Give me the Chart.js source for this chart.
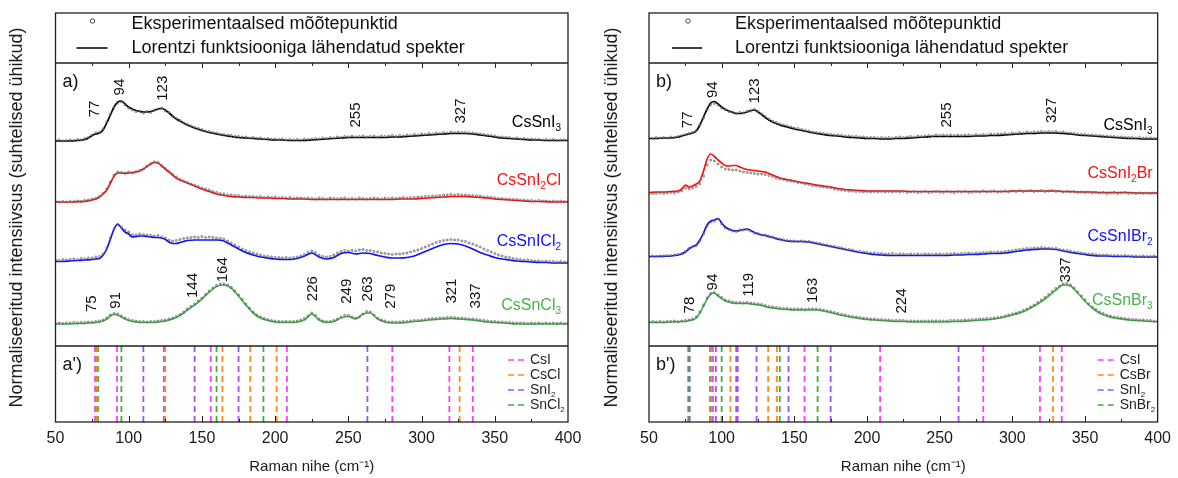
<!DOCTYPE html>
<html>
<head>
<meta charset="utf-8">
<script src="https://cdn.jsdelivr.net/npm/chart.js@4.4.1/dist/chart.umd.min.js"></script>
<style>
  body { margin: 0; background: #fff; }
  #wrap { display: flex; width: 1178px; height: 478px; }
  canvas { display: block; }
</style>
</head>
<body>
<div id="wrap">
  <canvas id="panelA" width="589" height="478"></canvas>
  <canvas id="panelB" width="589" height="478"></canvas>
</div>
<script>
// Raman shift grid of the fitted (Lorentz) spectra, cm-1
const ramanX = [50,55,60,65,
  70,72.5,75,77.5,80,82.5,85,87.5,90,92.5,95,97.5,100,102.5,105,107.5,110,112.5,115,117.5,120,122.5,125,127.5,130,132.5,135,137.5,140,
  145,150,155,160,165,170,175,180,185,190,195,200,205,210,215,220,225,230,235,240,245,250,255,260,265,270,275,280,285,290,
  295,300,305,310,315,320,325,330,335,340,345,350,355,360,365,370,375,380,385,390,395,400];

// measured points grid, cm-1
const expX = [50,52.5,55,57.5,60,62.5,65,67.5,70,72.5,75,77.5,80,82.5,85,87.5,90,92.5,95,97.5,
  100,102.5,105,107.5,110,112.5,115,117.5,120,122.5,125,127.5,130,132.5,135,137.5,140,142.5,145,147.5,
  150,152.5,155,157.5,160,162.5,165,167.5,170,172.5,175,177.5,180,182.5,185,187.5,190,192.5,195,197.5,
  200,202.5,205,207.5,210,212.5,215,217.5,220,222.5,225,227.5,230,232.5,235,237.5,240,242.5,245,247.5,
  250,252.5,255,257.5,260,262.5,265,267.5,270,272.5,275,277.5,280,282.5,285,287.5,290,292.5,295,297.5,
  300,302.5,305,307.5,310,312.5,315,317.5,320,322.5,325,327.5,330,332.5,335,337.5,340,342.5,345,347.5,
  350,352.5,355,357.5,360,362.5,365,367.5,370,372.5,375,377.5,380,382.5,385,387.5,390,392.5,395,397.5,400];

// ---- panel a: CsSnI3 -> CsSnCl3 (relative intensity) ----
const fitCsSnI3a = [0,0,0,0.5,
  1.5,3,5.5,7,8,11,18,26,34,39,40,37,34,32,30.5,29.5,29,29,29.5,30.5,32,32.5,31,28,25,22,20,18,16,
  13,10.5,8.5,7,5.5,4.5,3.5,3,2.5,2,1.5,1,1,0.5,0.5,0.5,1,1.5,2,2.5,3,3.5,3.5,3.5,3.5,3.5,3.5,4,4,4.5,
  5,5.5,6,6.5,7,7.5,7.5,7.5,7,6,5,4,3,2.5,2,1.5,1,1,0.5,0.5,0.5,0.5];
const fitCsSnI2Cl = [0,0,0,0.3,
  0.7,1.2,2,3,5,8,12,19,26,29,29,28.5,29,29.5,30,31,33,35.5,38,39.5,39,36,33,30,27,24,22,20.5,19,
  16,13,10.5,8,6.5,5.5,5,4.5,4.5,4,4,3.5,3.5,3,3,3,2.5,2.5,2.5,2.5,2.5,2.5,2.5,2.5,2.5,2.5,2.5,2.5,3,3,
  3,3.5,4,4.5,5,5.5,5.5,5.5,5,4.5,4,3,2.5,2,1.5,1,0.5,0.5,0.3,0,0,0];
const fitCsSnICl2 = [1.5,1.5,2,2.5,
  3,3.2,3.5,4,4.5,8,14,24,34,39,35,31,29,26,26.5,27,27,26.5,26,25.5,25.5,25,23.5,21,19.5,19.5,20.5,21.5,22.5,
  23,23,23,23,22,18,14,10.5,8,6,5,4,3.5,3.5,4.5,7,10,6,4,5.5,9.5,10.5,9,10,9.5,7.5,6,5,5,5.5,
  7,10,13,16,18.5,19.5,19,17,14,10.5,8,5.5,4,3,2,1.5,1,0.5,0.5,0,0,0];
const fitCsSnCl3 = [1,1,1,1.5,
  1.5,2,2,2.5,3,4,6,9,10.5,10,8,6,4.5,3.5,3,2.5,2.5,2.5,2.5,2.5,3,3.5,4,5,6,7.5,9.5,12,15,
  20,26,33,38.5,40,37,29,20,12,7,4.5,3,2.5,2.5,3,5,11,5,2.5,3.5,7,8.5,6,11,12,6,3,2,2,2.5,
  3.5,4,5,5.5,6,6.5,6,5.5,5,4,3,2.5,2,1.5,1,1,1,1,1,1,1,1];

const expCsSnI3a = [0.5,1,0,0.5,1,0.5,1.5,1,2.5,3.5, 6,8,8.5,12,19,27,34,38,39,36,
  33,31,29.5,30,28,29.5,28.5,31,32,33, 30,28.5,24.5,22.5,20.5,18,16.5,15,13.5,12.5,
  11.5,10,9.5,8.5,8,7,6.5,6,5.5,4.5, 4.5,4,4,3,3.5,2.5,3,2,2.5,1.5,
  2,1.5,2,1,1.5,1,1.5,1,2,1.5, 2,2.5,2,3,2.5,3.5,3,4,3.5,4.5,
  4,5,4,4.5,5,4,4.5,5,4,5, 4.5,5,5.5,4.5,5.5,5,6,5.5,6.5,6,
  7,6.5,7.5,7,8,7.5,8.5,8,9,8.5, 9,8.5,8.5,8,8,7.5,7,6.5,6,5.5,
  5,4,4,3.5,3.5,2.5,3,2,2.5,1.5, 2,1.5,1.5,1,1.5,1,1.5,0.5,1,1, 1];
const expCsSnI2Cl = [0.5,0,0.5,0,0.5,0.5,1,0.5,1.5,2, 3,3.5,5.5,8.5,13,20,27,30,29.5,29,
  30,29,30.5,31.5,33,36,38.5,40,39.5,36.5, 33.5,30.5,27.5,25,22.5,21,19.5,18,17,15.5,
  14,13,12,10.5,9.5,8.5,8,7,7,6.5, 6.5,5.5,6,5.5,5.5,5,5.5,4.5,5,4.5,
  5,4,4.5,4,4.5,3.5,4,4,3.5,4, 3.5,3,4,3.5,3,4,3.5,3,3.5,4,
  3,3.5,3,4,3.5,3,3.5,4,3.5,3, 4,3.5,4,3.5,4,4.5,4,4.5,4.5,5,
  5,5.5,5.5,6,6,6.5,7,7,7.5,7, 7.5,7,7,6.5,6.5,6,6,5,5,4.5,
  4,3.5,3.5,3,3,2.5,2.5,2,2,1.5, 1.5,1,1.5,1,1,0.5,1,0.5,1,0.5, 0.5];
const expCsSnICl2 = [3,2.5,3.5,3,3.5,4,3.5,4.5,4,5, 5,6,6.5,9,15,25,34,38,36,33,
  31,28,28,29,28.5,28,27.5,27,27.5,26, 25,23,22,22.5,23.5,24.5,25,25.5,26,25.5,
  26.5,25.5,26,25.5,25,24.5,24,22,20,18, 16,14,12.5,11,10,9,8,7,6.5,6,
  5.5,5.5,5,5.5,5,5.5,6,7,8.5,10.5, 12,10.5,8,6.5,6,6.5,8,10,11.5,12.5,
  12,12.5,12,13,13.5,12.5,12.5,11.5,11,10, 9.5,9,8.5,9,9,9.5,10,11,12,13,
  14.5,16,17.5,19,20.5,21.5,22.5,23,23.5,23, 23,22,21.5,20,19,17.5,16,14,12.5,11,
  9.5,8,7,6,5.5,4.5,4,3.5,3,3, 2.5,2,2,1.5,2,1.5,1.5,1,1.5,1, 1];
const expCsSnCl3 = [1.5,2,1.5,2,2,2.5,2,2.5,2.5,3, 3,3.5,4,5,7,10,11.5,11,9,7,
  5.5,4.5,4,3.5,3.5,3,3.5,3.5,4,4.5, 5,6,7,8.5,10.5,13,16,18.5,21,24,
  27,30.5,34,37,39.5,41,41,40,37.5,34, 30,25.5,21,17,13,10,8,6.5,5.5,4.5,
  4,3.5,3.5,3.5,3.5,3.5,4,5,6.5,9, 12,9.5,6,4,3.5,3.5,4.5,6,8,9.5,
  9.5,8,7,8,11,13.5,13,10,7,5, 4,3,3,3,3,3.5,3.5,4,4.5,4.5,
  5,5.5,6,6.5,6.5,7,7,7.5,7.5,7.5, 7,7,6.5,6,6,5.5,5,4.5,4,3.5,
  3.5,3,3,2.5,2.5,2,2,2,2,1.5, 2,1.5,2,1.5,2,1.5,2,1.5,2,1.5, 2];

// ---- panel b: CsSnI3 -> CsSnBr3 ----
const fitCsSnI3b = [0.5,0.5,1,1,
  2,3,4,5,6,8,14,22,30,36,37.5,35,32,29.5,28,26.5,25.5,25.5,26,27,28.5,29,27,24.5,21.5,19,17,15.5,14,
  12,10,8.5,7,5.5,4.5,3.5,3,2,1.5,1,0.5,0.5,0,0,0.5,0.5,1,1.5,2,2.5,2.5,2.5,2.5,2.5,2.5,3,3,3.5,3.5,
  4,4.5,5,5.5,5.5,6,6,6,5.5,5,4,3.5,3,2.5,2,1.5,1,0.5,0.5,0,0,0];
const fitCsSnI2Br = [0.5,1,1,1.5,
  2,4,8,6,7,9,12,22,34,39,36.5,33,30,27.5,27,27.5,27.5,26,24.5,23.5,23,22.5,22,21.5,21,19.5,18,16.5,15,
  13.5,12,10.5,9.5,8,7,6,4.5,3.5,3,2.5,2,2,2,2,2,2,1.5,1.5,1.5,1.5,1.5,1.5,1.5,1.5,1.5,1.5,1.5,1.5,1.5,
  1.5,2,2,2,2,2,2,2,1.5,1.5,1,1,1,0.5,0.5,0.5,0.5,0.5,0,0,0,0];
const fitCsSnIBr2 = [0.5,0.5,0.7,1,
  2,3,5,8,10.5,12,17,24,32,36,37,38.5,34,30,28,26.5,26,26.5,27.5,28,26.5,24.5,23,22,21.5,20.5,19.5,18.5,17.5,
  16,15.5,15.5,15,13.5,12,10.5,9,7.5,6,4.5,3.5,2.5,2,1.5,1.5,1.5,1.5,1.5,1.5,1.5,1.5,1.5,2,2,2.5,2.5,3,3.5,3.5,
  4,5,6,7,7.5,8,8,7.5,6,4.5,3.5,2.5,1.5,1,1,0.5,0.5,0.5,0,0,0,0];
const fitCsSnBr3 = [0.5,0.5,0.5,1,
  1,1.5,1.5,2.5,3,5,10,17,24,29,30,27,24.5,22,21,20,19.5,19.5,19.5,19.5,19,18.5,18,17.5,16.5,15.5,15,14.5,14,
  13.5,13,13,13,13,12,10.5,8.5,7,5.5,4.5,3.5,3,2.5,2,1.5,1.5,1,1,1,1,1,1,1.5,1.5,2,2.5,3,3.5,4.5,
  6,8,10,13,17,21.5,27,33,38,37,30,22,15,10,7,5,4,3,2.5,2,1.5,1];

const expCsSnI3b = [1,0.5,1.5,1,1.5,1,2,1.5,2.5,3.5, 4.5,5.5,6.5,8.5,14,21,29,34,35.5,34,
  31,29.5,27.5,27,25.5,26.5,26,27.5,28,29.5, 27.5,25,22.5,20,18,16.5,15,14,13,12,
  11,10.5,9.5,8.5,8,7,6.5,6,5.5,5, 4.5,4,4,3.5,3,3,2.5,2.5,2,2,
  1.5,1.5,1.5,1,1.5,1,1.5,1,1.5,2, 1.5,2,2.5,2,3,2.5,3,3.5,3,4,
  3.5,4,3.5,4,3.5,4,3.5,4,4,3.5, 4.5,4,4.5,4,5,4.5,5,5,5.5,5,
  6,5.5,6.5,6,7,6.5,7,7,7.5,7, 7.5,7,7.5,6.5,7,6,6,5.5,5,4.5,
  4.5,4,4,3.5,3.5,3,3,2.5,2.5,2, 2,1.5,1.5,1.5,1,1.5,1,1,1,0.5, 1];
const expCsSnI2Br = [-1,-0.5,-0.5,0,-0.5,0,0.5,0,1,2, 5,4,5,6.5,9,17,28,33,32,29,
  26,24,23.5,23,23,22,21,20.5,20,19.5, 19,19,18.5,17.5,16.5,15,14,13.5,12.5,12,
  11.5,10.5,10,9,8.5,7.5,7,6.5,6,5.5, 5,4,3.5,3,2.5,2,2,1.5,1.5,1,
  1.5,1,1.5,1,1.5,1,1.5,1,1.5,1, 1.5,0.5,1,1.5,0.5,1,1.5,0.5,1,1.5,
  1,0.5,1.5,1,0.5,1.5,1,1.5,0.5,1, 1.5,1,2,1,1.5,2,1,1.5,2,1,
  2,1.5,2.5,1.5,2,2.5,1.5,2,2.5,1.5, 2,2.5,1.5,2,1,1.5,1,1.5,0.5,1,
  0.5,1,0,0.5,0,0.5,-0.5,0,0.5,-0.5, 0,0.5,-0.5,0,-0.5,0,-0.5,0,-0.5,0, -0.5];
const expCsSnIBr2 = [0.5,1,0.5,1,1,1.5,1.5,2,2.5,3.5, 5.5,8.5,10,11.5,16,23,31,35,36,38,
  33,29,27.5,26,25.5,27,27,27.5,26,24, 23.5,22,22,20.5,20,18.5,18,17,16.5,16,
  16,15.5,16,15.5,15.5,14.5,14,13.5,12.5,12, 11,10.5,9.5,9,8,7.5,7,6,5.5,5,
  4.5,4,4,3.5,3.5,3,3,3.5,2.5,3, 3,2.5,3,2.5,3,2.5,3,3,2.5,3,
  3,2.5,3,3,3.5,3,3.5,3.5,4,3.5, 4,4,4.5,4.5,5,4.5,5,5,5.5,6,
  6.5,7,7.5,8,8.5,8.5,9,9,9.5,9, 9,8.5,8.5,7.5,7,6.5,6,5,4.5,4,
  3.5,3,3,2.5,2,2,2,1.5,1.5,1.5, 1,1.5,1,1,1,0.5,1,0.5,0.5,1, 0.5];
const expCsSnBr3 = [1,1.5,1,1.5,1,1.5,1.5,2,1.5,2, 2.5,3,4,6,11,18,25,29.5,30.5,28,
  25.5,23,22,21,20.5,20.5,20,20.5,20,19.5, 19,18.5,17.5,16.5,16,15.5,15,14.5,14.5,14,
  14,14,14,13.5,14,14,14,13.5,13,12, 11.5,10.5,9.5,8.5,8,7,6.5,6,5.5,5,
  4.5,4,4,3.5,3.5,3,3,2.5,2.5,2.5, 2.5,2,2,2,2,2,2,2,2,2,
  2,2,2,2.5,2.5,2.5,2.5,3,3,3.5, 3.5,4,4,4.5,4.5,5,5.5,6,7,8,
  9,10,11,12.5,14,16,18,20.5,23,25.5, 28.5,31.5,34.5,37,39,39.5,38,35,31,27,
  23,19,16,13.5,11,9.5,8,7,6,5.5, 5,4.5,4,3.5,3.5,3,3,2.5,2.5,2, 2];

// assigned peak positions, cm-1
const peaksCsSnI3 = [77, 94, 123, 255, 327];
const peaksCsSnCl3 = [75, 91, 144, 164, 226, 249, 263, 279, 321, 337];
const peaksCsSnBr3 = [78, 94, 119, 163, 224, 337];

// reference Raman lines of the precursors, cm-1
const refCsIa = [77, 92, 156, 208, 280, 319, 335];
const refCsCl = [78, 125, 164, 183, 201, 326];
const refSnI2a = [110, 124, 145, 175, 263];
const refSnCl2 = [79, 95, 160, 192];
const refCsIb = [94, 157, 209, 280, 319, 334];
const refCsBr = [93, 106, 132, 138, 328];
const refSnI2b = [78, 96, 110, 111, 124, 146, 175, 263];
const refSnBr2 = [77, 92, 100, 140, 166];

const FONT = '"Liberation Sans", Arial, Helvetica, sans-serif';
Chart.defaults.font.family = FONT;
Chart.defaults.color = '#1a1a1a';

// vertical layout in plot units (1 unit = 1 px of the plot box)
const TOTAL = 409, LEGEND_BOTTOM = 359, REF_TOP = 76;

const C_BLACK = '#000000', C_RED = '#ff1010', C_BLUE = '#1010ff', C_GREEN = '#45b545';
const C_CSI = '#ff3cff', C_CSX = '#ff8c1a', C_SNI2 = '#a64dff', C_SNX2 = '#3db03d';

const panels = [
  {
    canvas: 'panelA', tag: 'a', yAxisWidth: 55.5, padRight: 21, titlePad: 6, nameInset: 7,
    legX: { mark: 37, line0: 21, line1: 52, text: 76 },
    spectra: [
      { name: 'CsSnI_3', color: C_BLACK, fit: fitCsSnI3a, exp: expCsSnI3a, base: 281, lift: 18 },
      { name: 'CsSnI_2Cl', color: C_RED, fit: fitCsSnI2Cl, exp: expCsSnI2Cl, base: 220, lift: 21 },
      { name: 'CsSnICl_2', color: C_BLUE, fit: fitCsSnICl2, exp: expCsSnICl2, base: 159, lift: 21 },
      { name: 'CsSnCl_3', color: C_GREEN, fit: fitCsSnCl3, exp: expCsSnCl3, base: 97, lift: 19 }
    ],
    peaks: [
      { series: 0, values: peaksCsSnI3, gaps: [17, 6, 8, 10, 10] },
      { series: 3, values: peaksCsSnCl3, gaps: [11, 6, 8, 3, 14, 13, 12, 14, 15, 12] }
    ],
    refs: [
      { name: 'CsI', color: C_CSI, values: refCsIa },
      { name: 'CsCl', color: C_CSX, values: refCsCl },
      { name: 'SnI_2', color: C_SNI2, values: refSnI2a },
      { name: 'SnCl_2', color: C_SNX2, values: refSnCl2 }
    ]
  },
  {
    canvas: 'panelB', tag: 'b', yAxisWidth: 60, padRight: 15, titlePad: 12, nameInset: 5,
    legX: { mark: 39, line0: 23, line1: 53, text: 86 },
    spectra: [
      { name: 'CsSnI_3', color: C_BLACK, fit: fitCsSnI3b, exp: expCsSnI3b, base: 283, lift: 13 },
      { name: 'CsSnI_2Br', color: C_RED, fit: fitCsSnI2Br, exp: expCsSnI2Br, base: 229, lift: 19 },
      { name: 'CsSnIBr_2', color: C_BLUE, fit: fitCsSnIBr2, exp: expCsSnIBr2, base: 165, lift: 20 },
      { name: 'CsSnBr_3', color: C_GREEN, fit: fitCsSnBr3, exp: expCsSnBr3, base: 99, lift: 22 }
    ],
    peaks: [
      { series: 0, values: peaksCsSnI3, gaps: [6, 4, 7, 9, 10] },
      { series: 3, values: peaksCsSnBr3, gaps: [7, 3, 7, 7, 8, 3] }
    ],
    refs: [
      { name: 'CsI', color: C_CSI, values: refCsIb },
      { name: 'CsBr', color: C_CSX, values: refCsBr },
      { name: 'SnI_2', color: C_SNI2, values: refSnI2b },
      { name: 'SnBr_2', color: C_SNX2, values: refSnBr2 }
    ]
  }
];

// linear read-out of a fitted curve, used to seat the peak labels
function heightAt(ys, v) {
  for (let i = 1; i < ramanX.length; i++) {
    if (v <= ramanX[i]) {
      const t = (v - ramanX[i - 1]) / (ramanX[i] - ramanX[i - 1]);
      return ys[i - 1] + t * (ys[i] - ys[i - 1]);
    }
  }
  return ys[ys.length - 1];
}

// formula text, "_n" marks a subscript digit
function drawChem(ctx, text, x, yMid, size, color, align) {
  const parts = [];
  for (let i = 0; i < text.length; i++) {
    if (text[i] === '_') { parts.push([text[i + 1], true]); i++; }
    else parts.push([text[i], false]);
  }
  const big = size + 'px ' + FONT, small = Math.round(size * 0.6) + 'px ' + FONT;
  let w = 0;
  parts.forEach(([t, sub]) => { ctx.font = sub ? small : big; w += ctx.measureText(t).width; });
  let xx = align === 'right' ? x - w : x;
  ctx.fillStyle = color;
  ctx.textAlign = 'left';
  ctx.textBaseline = 'middle';
  parts.forEach(([t, sub]) => {
    ctx.font = sub ? small : big;
    ctx.fillText(t, xx, sub ? yMid + size * 0.33 : yMid);
    xx += ctx.measureText(t).width;
  });
}

function decor(p) {
  return {
    id: 'decor',
    afterDatasetsDraw(chart) {
      const { ctx, chartArea: a, scales: { x, y } } = chart;
      const yLeg = y.getPixelForValue(LEGEND_BOTTOM);
      const yRef = y.getPixelForValue(REF_TOP);
      ctx.save();

      // frame and the two dividers
      ctx.strokeStyle = '#222';
      ctx.lineWidth = 1.3;
      ctx.strokeRect(a.left, a.top, a.right - a.left, a.bottom - a.top);
      ctx.beginPath();
      ctx.moveTo(a.left, yLeg); ctx.lineTo(a.right, yLeg);
      ctx.moveTo(a.left, yRef); ctx.lineTo(a.right, yRef);
      ctx.stroke();

      // inward ticks every 25 cm-1
      ctx.lineWidth = 1;
      ctx.beginPath();
      for (let v = 75; v < 400; v += 25) {
        const px = Math.round(x.getPixelForValue(v)) + 0.5;
        const major = v % 50 === 0;
        ctx.moveTo(px, a.bottom); ctx.lineTo(px, a.bottom - (major ? 6 : 3));
        ctx.moveTo(px, yLeg); ctx.lineTo(px, yLeg + (major ? 5 : 3));
      }
      ctx.stroke();

      // legend box on top
      const L = p.legX;
      const r1 = a.top + 11, r2 = a.top + 35;
      ctx.beginPath();
      ctx.arc(a.left + L.mark, a.top + 8, 2.2, 0, Math.PI * 2);
      ctx.strokeStyle = '#333';
      ctx.lineWidth = 0.9;
      ctx.stroke();
      ctx.beginPath();
      ctx.moveTo(a.left + L.line0, r2); ctx.lineTo(a.left + L.line1, r2);
      ctx.strokeStyle = '#111';
      ctx.lineWidth = 1.6;
      ctx.stroke();
      ctx.font = '18px ' + FONT;
      ctx.fillStyle = '#111';
      ctx.textAlign = 'left';
      ctx.textBaseline = 'middle';
      ctx.fillText('Eksperimentaalsed mõõtepunktid', a.left + L.text, r1);
      ctx.fillText('Lorentzi funktsiooniga lähendatud spekter', a.left + L.text, r2);

      // panel letters
      ctx.font = '18px ' + FONT;
      ctx.fillText(p.tag + ')', a.left + 7, a.top + 69);
      ctx.fillText(p.tag + "')", a.left + 7, yRef + 19);

      // sample names
      p.spectra.forEach(s => {
        drawChem(ctx, s.name, a.right - p.nameInset, y.getPixelForValue(s.base) - s.lift, 16, s.color, 'right');
      });

      // peak positions, written upwards
      ctx.font = '15px ' + FONT;
      ctx.fillStyle = '#111';
      p.peaks.forEach(g => {
        const s = p.spectra[g.series];
        g.values.forEach((v, i) => {
          const py = y.getPixelForValue(s.base + heightAt(s.fit, v)) - g.gaps[i];
          ctx.save();
          ctx.translate(x.getPixelForValue(v), py);
          ctx.rotate(-Math.PI / 2);
          ctx.textAlign = 'left';
          ctx.textBaseline = 'middle';
          ctx.fillText(String(v), 0, 0);
          ctx.restore();
        });
      });

      // legend of the reference lines
      p.refs.forEach((r, i) => {
        const yy = yRef + 14 + 15 * i;
        ctx.beginPath();
        ctx.setLineDash([6, 4]);
        ctx.moveTo(a.right - 60, yy); ctx.lineTo(a.right - 44, yy);
        ctx.strokeStyle = r.color;
        ctx.lineWidth = 1.6;
        ctx.stroke();
        ctx.setLineDash([]);
        drawChem(ctx, r.name, a.right - 38, yy, 14, '#222', 'left');
      });

      ctx.restore();
    }
  };
}

function buildPanel(p) {
  const datasets = [];
  p.spectra.forEach(s => {
    datasets.push({
      data: expX.map((x, i) => ({ x, y: s.base + s.exp[i] })),
      showLine: false, pointRadius: 1.1, pointBorderWidth: 0.6,
      pointBorderColor: 'rgba(60,60,60,0.8)', pointBackgroundColor: 'rgba(160,160,160,0.6)',
      order: 1
    });
    datasets.push({
      data: ramanX.map((x, i) => ({ x, y: s.base + s.fit[i] })),
      borderColor: s.color, borderWidth: 1.7, pointRadius: 0,
      cubicInterpolationMode: 'monotone', order: 2
    });
  });
  p.refs.forEach(r => {
    datasets.push({
      data: r.values.flatMap(v => [{ x: v, y: 0 }, { x: v, y: REF_TOP }, { x: v, y: null }]),
      borderColor: r.color, borderWidth: 1.8, borderDash: [6, 4],
      pointRadius: 0, spanGaps: false, order: 3
    });
  });

  new Chart(document.getElementById(p.canvas), {
    type: 'line',
    data: { datasets },
    options: {
      responsive: false,
      animation: false,
      devicePixelRatio: 1,
      layout: { padding: { top: 13, right: p.padRight, bottom: 0, left: 0 } },
      plugins: { legend: { display: false }, tooltip: { enabled: false } },
      scales: {
        x: {
          type: 'linear', min: 50, max: 400,
          grid: { display: false, drawTicks: false },
          border: { display: false },
          ticks: { stepSize: 50, padding: 7, maxRotation: 0, font: { size: 16 }, color: '#1a1a1a' },
          title: { display: true, text: 'Raman nihe (cm⁻¹)', font: { size: 15 }, color: '#1a1a1a', padding: { top: 0, bottom: 2 } },
          afterFit(sc) { sc.height = 56; }
        },
        y: {
          type: 'linear', min: 0, max: TOTAL,
          grid: { display: false },
          border: { display: false },
          ticks: { display: false },
          title: { display: true, text: 'Normaliseeritud intensiivsus (suhtelised ühikud)', font: { size: 18 }, color: '#1a1a1a', padding: { top: p.titlePad, bottom: 0 } },
          afterFit(sc) { sc.width = p.yAxisWidth; }
        }
      }
    },
    plugins: [decor(p)]
  });
}

panels.forEach(buildPanel);
</script>
</body>
</html>
